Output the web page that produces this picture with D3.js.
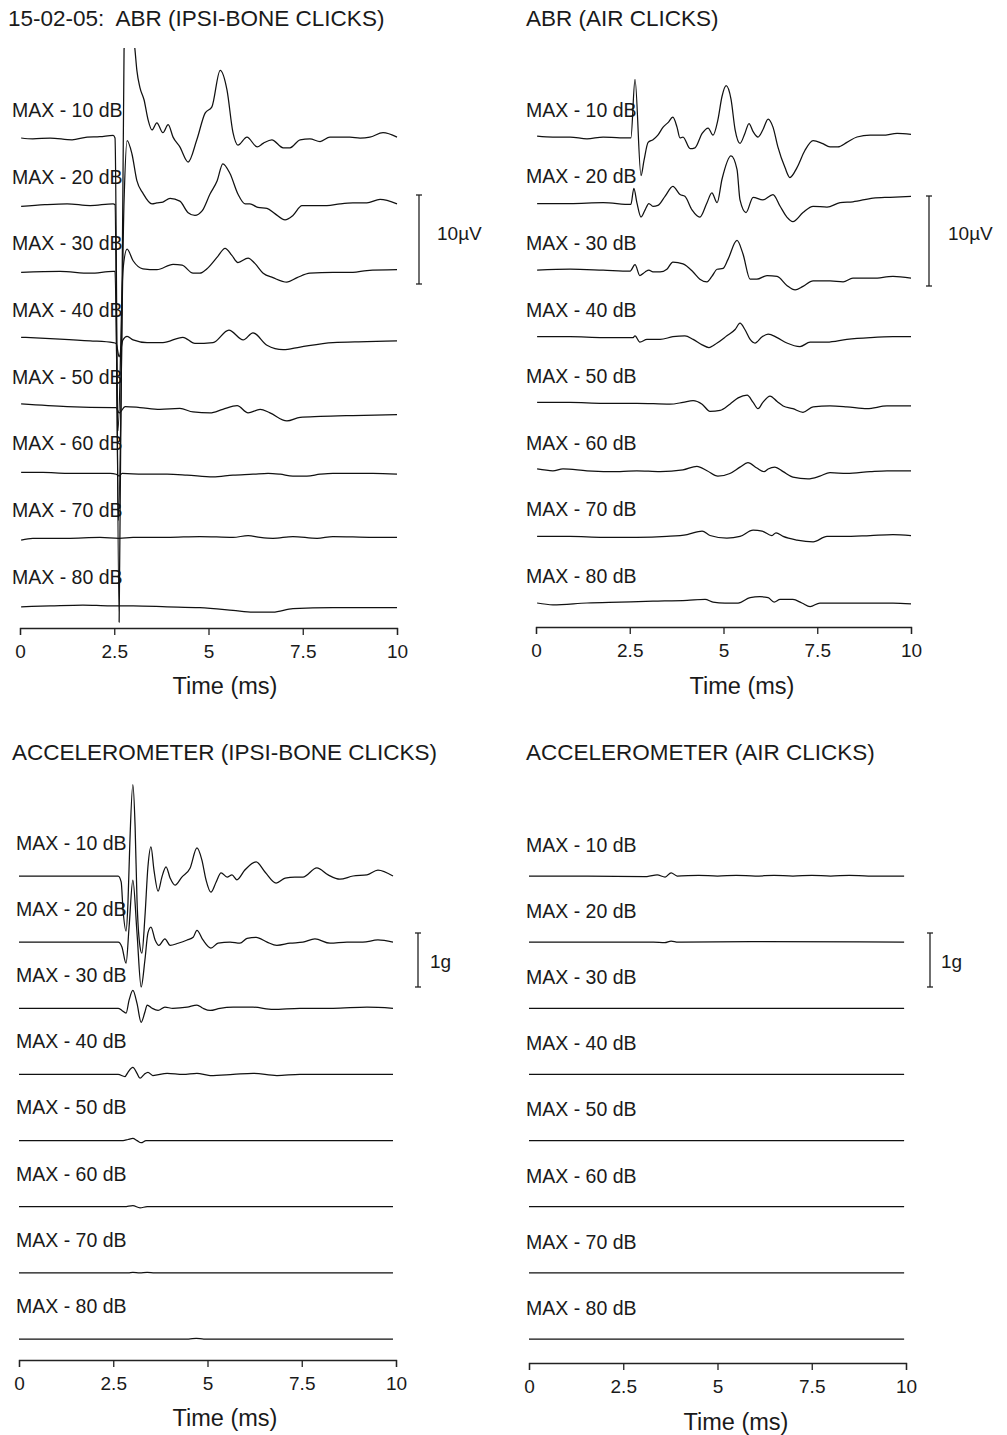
<!DOCTYPE html>
<html><head><meta charset="utf-8">
<script src="https://cdn.jsdelivr.net/npm/d3@7"></script>
<style>
body{margin:0;background:#fff;}
svg text{font-family:"Liberation Sans",Arial,Helvetica,sans-serif;fill:#1a1a1a;}
</style></head><body>
<svg id="chart" width="1007" height="1435"></svg>
<script>
const levels = ["MAX - 10 dB","MAX - 20 dB","MAX - 30 dB","MAX - 40 dB","MAX - 50 dB","MAX - 60 dB","MAX - 70 dB","MAX - 80 dB"];
const timeTicks = [0, 2.5, 5, 7.5, 10];
const titles = ["15-02-05:  ABR (IPSI-BONE CLICKS)","ABR (AIR CLICKS)","ACCELEROMETER (IPSI-BONE CLICKS)","ACCELEROMETER (AIR CLICKS)"];
const xLabel = "Time (ms)";
const scaleBars = [{value:10,label:"10\u00b5V"},{value:1,label:"1g"}];

// ABR, ipsilateral bone clicks: [time ms, amplitude µV]
const abrBone10 = [[0.03,0],[0.34,-0.1],[0.8,0],[1.38,-0.2],[1.78,0.1],[2.12,0.15],[2.47,0.3],[2.52,0],[2.63,-54.4],[2.76,9.9],[2.9,15.5],[3.05,9.9],[3.1,7.6],[3.18,5.7],[3.29,4.3],[3.4,2.0],[3.5,0.9],[3.63,1.7],[3.79,0.6],[3.93,1.5],[4.06,0.1],[4.24,-1.0],[4.46,-2.7],[4.69,-0.2],[4.91,2.8],[5.09,3.5],[5.31,7.6],[5.49,5.4],[5.65,0.6],[5.78,-0.8],[6.02,0.1],[6.29,-1.0],[6.45,-0.6],[6.68,-0.2],[6.98,-1.1],[7.16,-1.1],[7.43,-0.2],[7.69,-0.1],[7.96,-0.4],[8.22,0.1],[8.49,0.1],[8.75,0.1],[9.02,0],[9.28,0.1],[9.63,0.6],[10,0.1]];
const abrBone20 = [[0.03,-0.2],[0.66,0],[1.25,0.1],[1.86,-0.1],[2.47,0.1],[2.52,0],[2.61,-35.5],[2.76,0.4],[2.84,7.2],[2.97,5.7],[3.1,2.7],[3.26,1.3],[3.5,0.1],[3.63,0.2],[3.79,0.3],[3.98,0.7],[4.24,0.4],[4.46,-0.9],[4.64,-1.2],[4.83,-0.7],[5.04,1.2],[5.23,2.7],[5.38,4.6],[5.57,3.5],[5.78,1.2],[5.97,0.1],[6.1,0.1],[6.31,-0.3],[6.55,-0.4],[6.76,-1.0],[7.03,-1.7],[7.24,-1.2],[7.48,-0.1],[7.77,-0.1],[8.14,-0.1],[8.49,0.1],[8.83,0.2],[9.2,0.2],[9.55,0.6],[10,0.1]];
const abrBone30 = [[0.03,-0.1],[1.06,0],[1.86,-0.2],[2.47,0],[2.52,0],[2.6,-17.9],[2.73,0.1],[2.84,2.5],[3.0,1.2],[3.26,0.3],[3.63,0.2],[4.06,0.8],[4.3,0.7],[4.59,-0.2],[4.77,-0.2],[4.96,0.3],[5.23,1.6],[5.44,2.6],[5.62,1.8],[5.78,1.0],[6.05,1.5],[6.23,0.9],[6.45,-0.2],[6.71,-0.7],[7.08,-1.2],[7.35,-0.7],[7.69,-0.2],[8.3,-0.1],[8.83,-0.1],[9.2,0.1],[10,0.2]];
const abrBone40 = [[0.03,0.1],[1.06,-0.1],[1.86,-0.3],[2.47,-0.5],[2.55,-0.6],[2.63,-2.1],[2.73,-0.2],[2.84,0.2],[3.0,-0.2],[3.37,-0.5],[3.79,-0.5],[4.32,0.1],[4.64,-0.6],[5.12,-0.5],[5.54,0.9],[5.92,-0.2],[6.18,0.6],[6.55,-0.8],[6.98,-1.3],[7.43,-1.0],[8.3,-0.5],[9.2,-0.4],[10,-0.3]];
const abrBone50 = [[0.03,0.1],[1.25,-0.2],[2.47,-0.3],[2.55,-0.3],[2.63,-0.9],[2.79,-0.2],[3.18,-0.3],[3.71,-0.5],[4.24,-0.4],[4.59,-0.8],[5.04,-0.9],[5.38,-0.5],[5.76,-0.1],[6.05,-0.9],[6.37,-0.5],[6.63,-0.9],[7.08,-1.8],[7.43,-1.4],[7.96,-1.3],[8.83,-1.2],[10,-1.1]];
const abrBone60 = [[0.03,-0.1],[0.61,-0.1],[1.25,-0.2],[1.94,-0.2],[2.39,-0.2],[2.55,-0.3],[2.63,-0.5],[2.71,-0.2],[3.26,-0.3],[3.9,-0.3],[4.43,-0.4],[5.12,-0.6],[5.65,-0.4],[6.18,-0.3],[6.58,-0.2],[6.9,-0.3],[7.24,-0.5],[7.61,-0.5],[7.96,-0.3],[8.3,-0.2],[9.36,-0.2],[10,-0.3]];
const abrBone70 = [[0.03,-0.2],[0.34,0],[1.25,0],[2.12,0.1],[2.63,0],[3.0,0.1],[3.9,0.1],[4.77,0.2],[5.65,0.1],[6.05,0.3],[6.37,0.1],[6.71,0],[7.24,0.2],[7.88,0],[8.3,0.2],[9.36,0.1],[10,0.1]];
const abrBone80 = [[0.03,-0.2],[0.8,-0.1],[1.67,0],[2.39,-0.1],[3.0,-0.1],[3.9,-0.2],[4.77,-0.3],[5.65,-0.6],[6.18,-0.8],[6.71,-0.8],[7.24,-0.4],[8.3,-0.3],[10,-0.3]];

// ABR, air clicks: [time ms, amplitude µV]
const abrAir10 = [[0.03,0.1],[0.45,0],[0.91,0],[1.36,-0.2],[1.79,0],[2.24,-0.1],[2.53,-0.1],[2.64,6.4],[2.8,-4.3],[2.88,-2.6],[2.99,-0.6],[3.12,-0.3],[3.25,0.2],[3.39,1.1],[3.52,1.6],[3.65,2.2],[3.76,1.1],[3.84,-0.1],[3.92,0],[4.11,-1.3],[4.24,-1.2],[4.43,0.4],[4.59,1.0],[4.72,0.2],[4.85,1.9],[4.96,4.5],[5.07,5.7],[5.2,4.2],[5.31,0.8],[5.44,-0.7],[5.57,0.4],[5.68,1.5],[5.79,0.6],[5.92,0],[6.05,0.8],[6.19,2.0],[6.32,1.1],[6.45,-1.1],[6.64,-3.4],[6.77,-4.5],[6.96,-3.4],[7.17,-1.5],[7.39,-0.4],[7.63,-0.7],[7.84,-1.1],[8.05,-1.1],[8.29,-0.6],[8.56,0],[8.91,0.2],[9.25,0.2],[9.63,0.4],[10,0.3]];
const abrAir20 = [[0.03,0],[0.91,0],[1.79,0.1],[2.53,-0.1],[2.61,1.7],[2.69,0.1],[2.8,-1.5],[2.91,-0.7],[3.01,0],[3.12,-0.3],[3.25,-0.2],[3.44,0.8],[3.65,1.9],[3.84,1.0],[3.97,0.8],[4.16,-0.7],[4.37,-1.5],[4.56,0.1],[4.69,1.2],[4.83,0.1],[4.96,2.7],[5.2,5.3],[5.36,3.8],[5.44,0.4],[5.6,-1.0],[5.79,0.7],[6.05,0.4],[6.32,1.0],[6.51,-0.3],[6.69,-1.5],[6.85,-2.0],[7.12,-1.0],[7.39,-0.3],[7.76,-0.4],[8.11,0.1],[8.45,0.2],[8.99,0.6],[9.44,0.7],[10,0.8]];
const abrAir30 = [[0.03,0],[0.91,0.1],[1.79,0],[2.51,-0.1],[2.64,0.6],[2.77,-0.6],[2.91,-0.2],[3.01,0],[3.12,-0.2],[3.31,-0.2],[3.49,0.1],[3.65,0.9],[3.92,0.7],[4.19,-0.2],[4.37,-1.0],[4.56,-1.3],[4.69,-0.7],[4.83,0.1],[4.99,0.2],[5.12,1.2],[5.36,3.3],[5.52,1.8],[5.71,-1.0],[5.89,-1.0],[6.16,-0.6],[6.43,-0.7],[6.69,-1.7],[6.91,-2.2],[7.12,-1.8],[7.39,-1.2],[7.84,-1.2],[8.19,-1.3],[8.45,-0.9],[8.99,-0.9],[9.52,-0.7],[10,-0.9]];
const abrAir40 = [[0.03,0],[0.91,0],[1.79,-0.1],[2.59,-0.1],[2.64,0.1],[2.77,-0.6],[2.96,-0.3],[3.31,-0.3],[3.65,0],[3.97,0.1],[4.19,-0.3],[4.43,-0.9],[4.61,-1.2],[4.83,-0.7],[5.09,0.1],[5.31,0.8],[5.44,1.5],[5.57,0.8],[5.71,-0.3],[5.84,-0.7],[6.03,0],[6.19,0.3],[6.43,-0.1],[6.69,-0.7],[7.04,-1.1],[7.31,-0.6],[7.76,-0.6],[8.29,-0.3],[8.91,-0.1],[9.52,0],[10,0]];
const abrAir50 = [[0.03,0.1],[0.91,0.1],[1.79,0],[2.69,0],[3.57,-0.1],[3.92,0.1],[4.19,0.3],[4.43,-0.1],[4.64,-0.9],[4.91,-0.8],[5.17,-0.1],[5.39,0.6],[5.63,0.9],[5.79,0.1],[5.92,-0.6],[6.05,0.1],[6.24,0.8],[6.43,0.2],[6.59,-0.3],[6.85,-0.6],[7.12,-1.0],[7.39,-0.4],[7.84,-0.3],[8.29,-0.4],[8.83,-0.6],[9.36,-0.3],[10,-0.3]];
const abrAir60 = [[0.03,0.1],[0.45,-0.1],[0.72,0.1],[1.36,-0.1],[2.24,-0.2],[2.69,-0.1],[3.31,-0.2],[3.92,0],[4.29,0.4],[4.56,-0.1],[4.85,-0.7],[5.17,-0.4],[5.44,0.3],[5.65,0.8],[5.89,0.2],[6.08,-0.2],[6.19,0.1],[6.37,0.3],[6.59,-0.2],[6.85,-0.8],[7.25,-1.0],[7.57,-0.7],[7.84,-0.3],[8.29,-0.4],[8.91,-0.2],[9.36,-0.1],[10,-0.1]];
const abrAir70 = [[0.03,0],[0.91,0],[1.79,-0.1],[2.69,-0.1],[3.49,0],[4.03,0.2],[4.43,0.6],[4.64,0.1],[5.09,-0.2],[5.44,0],[5.79,0.7],[6.03,0.6],[6.29,0.1],[6.4,0.4],[6.59,0],[6.96,-0.4],[7.39,-0.6],[7.76,0],[8.19,0],[8.91,0.1],[9.52,0.2],[10,0.1]];
const abrAir80 = [[0.03,0],[0.45,-0.2],[1.36,0],[2.24,0.1],[3.12,0.2],[4.03,0.3],[4.51,0.4],[4.72,0.1],[5.04,0],[5.39,0],[5.71,0.6],[5.97,0.7],[6.19,0.6],[6.35,0.1],[6.51,0.4],[6.85,0.4],[7.09,0],[7.31,-0.4],[7.57,0],[8.03,0],[8.91,0],[9.52,0],[10,-0.1]];

// Accelerometer, ipsilateral bone clicks: [time ms, acceleration g]
const accBone10 = [[0,0],[1.3,0],[2.63,0],[2.71,-0.11],[2.76,-0.63],[2.84,-1.02],[2.89,-0.5],[2.94,0.61],[3.02,1.69],[3.08,0.91],[3.13,-0.44],[3.21,-1.31],[3.26,-1.43],[3.34,-0.76],[3.42,0.17],[3.5,0.54],[3.58,0.11],[3.69,-0.28],[3.79,-0.02],[3.9,0.17],[4.01,-0.04],[4.14,-0.17],[4.32,-0.02],[4.54,0.15],[4.72,0.52],[4.85,0.3],[4.96,-0.07],[5.09,-0.3],[5.23,-0.11],[5.36,0.06],[5.52,-0.02],[5.65,0.02],[5.78,-0.07],[5.99,0.11],[6.29,0.26],[6.53,0.07],[6.82,-0.13],[7.06,-0.04],[7.32,-0.02],[7.53,-0.02],[7.9,0.15],[8.2,0.02],[8.51,-0.06],[8.86,0],[9.23,0.02],[9.52,0.11],[9.92,0]];
const accBone20 = [[0,0],[1.3,0],[2.63,0],[2.73,-0.09],[2.84,-0.39],[2.92,0.28],[3.02,1.15],[3.13,0.17],[3.24,-0.83],[3.34,-0.33],[3.42,0.17],[3.5,0.28],[3.61,0.04],[3.71,-0.06],[3.87,0.06],[4.01,-0.06],[4.22,-0.02],[4.46,0.04],[4.62,0.09],[4.72,0.22],[4.88,0.04],[5.09,-0.11],[5.28,-0.02],[5.6,0],[5.86,-0.02],[6.05,0.07],[6.29,0.09],[6.58,0],[6.84,-0.06],[7.19,-0.02],[7.53,0],[7.85,0.06],[8.25,-0.02],[8.7,0],[9.12,0],[9.52,0.04],[9.92,0]];
const accBone30 = [[0,0],[1.3,0],[2.63,0],[2.73,-0.04],[2.84,-0.09],[2.92,0.15],[3.02,0.33],[3.13,0.09],[3.24,-0.26],[3.34,-0.07],[3.4,0.06],[3.53,0],[3.69,-0.04],[3.87,0.02],[4.08,0],[4.46,0.02],[4.72,0.06],[4.88,0],[5.07,-0.04],[5.33,0],[5.68,0.02],[6.21,0.02],[6.74,-0.02],[7.45,0],[8.33,0],[9.23,0.02],[9.92,0]];
const accBone40 = [[0,0],[1.3,0],[2.63,0],[2.81,-0.04],[2.89,0.04],[3.02,0.13],[3.13,0.02],[3.21,-0.07],[3.32,0],[3.42,0.04],[3.55,-0.02],[3.93,0.02],[4.35,0],[4.72,0.02],[5.07,-0.02],[5.68,0],[6.21,0.02],[6.84,-0.02],[7.45,0],[9.92,0]];
const accBone50 = [[0,0],[1.3,0],[2.76,0],[2.89,0.02],[3.02,0.04],[3.13,0],[3.24,-0.04],[3.37,0],[4.8,0],[9.92,0]];
const accBone60 = [[0,0],[2.8,0],[3.02,0.02],[3.21,-0.02],[3.4,0],[9.92,0]];
const accBone70 = [[0,0],[2.9,0],[3.02,0.01],[3.2,0],[3.4,0.01],[3.6,0],[9.92,0]];
const accBone80 = [[0,0],[4.5,0],[4.7,0.01],[4.9,0],[9.92,0]];

// Accelerometer, air clicks: [time ms, acceleration g]
const accAir10 = [[0,0],[1.5,0],[3.13,-0.01],[3.4,0.02],[3.61,-0.02],[3.77,0.06],[3.93,0],[4.5,0.01],[5.0,0],[5.5,0.01],[6.0,0],[6.5,0.01],[7.0,0],[7.5,0.01],[8.0,0],[8.5,0.01],[9.0,0],[9.95,0]];
const accAir20 = [[0,0],[3.3,0],[3.6,-0.01],[3.77,0.02],[3.95,0],[6.0,0.01],[9.95,0]];
const accAir30 = [[0,0],[5,0],[9.95,0]];
const accAir40 = [[0,0],[5,0],[9.95,0]];
const accAir50 = [[0,0],[5,0],[9.95,0]];
const accAir60 = [[0,0],[5,0],[9.95,0]];
const accAir70 = [[0,0],[5,0],[9.95,0]];
const accAir80 = [[0,0],[5,0],[9.95,0]];

const abrBoneTraces = [abrBone10,abrBone20,abrBone30,abrBone40,abrBone50,abrBone60,abrBone70,abrBone80];
const abrAirTraces = [abrAir10,abrAir20,abrAir30,abrAir40,abrAir50,abrAir60,abrAir70,abrAir80];
const accBoneTraces = [accBone10,accBone20,accBone30,accBone40,accBone50,accBone60,accBone70,accBone80];
const accAirTraces = [accAir10,accAir20,accAir30,accAir40,accAir50,accAir60,accAir70,accAir80];

// layout
const panels = [
  {title:titles[0], titleX:8, titleY:18, xr:[20,397], rows:[138,605], labelX:12, labelDy:-28, axisY:628, xLab:[225,686], traces:abrBoneTraces, bar:scaleBars[0], barPx:89, barX:419, barTop:195, barLab:[437,233], clipTop:48},
  {title:titles[1], titleX:526, titleY:18, xr:[536,911], rows:[137,603], labelX:526, labelDy:-27, axisY:627, xLab:[742,686], traces:abrAirTraces, bar:scaleBars[0], barPx:90, barX:929, barTop:196, barLab:[948,233], clipTop:0},
  {title:titles[2], titleX:12, titleY:752, xr:[19,396], rows:[876,1339], labelX:16, labelDy:-33, axisY:1360, xLab:[225,1418], traces:accBoneTraces, bar:scaleBars[1], barPx:54, barX:418, barTop:933, barLab:[430,961], clipTop:0},
  {title:titles[3], titleX:526, titleY:752, xr:[529,906], rows:[876,1339], labelX:526, labelDy:-31, axisY:1363, xLab:[736,1422], traces:accAirTraces, bar:scaleBars[1], barPx:54, barX:930, barTop:933, barLab:[941,961], clipTop:0}
];

const svg = d3.select("#chart");
const defs = svg.append("defs");

panels.forEach((p, pi) => {
  const g = svg.append("g");
  const x = d3.scaleLinear().domain([0,10]).range(p.xr);
  const row = d3.scaleLinear().domain([0, levels.length-1]).range(p.rows);
  const amp = d3.scaleLinear().domain([0, p.bar.value]).range([0, p.barPx]);

  g.append("text").attr("x", p.titleX).attr("y", p.titleY).attr("dy","0.35em")
    .style("white-space","pre").attr("font-size","22.5px").text(p.title);

  g.selectAll("text.lvl").data(levels).join("text").attr("class","lvl")
    .attr("x", p.labelX).attr("y", (d,i) => row(i) + p.labelDy).attr("dy","0.35em")
    .attr("font-size","19.5px").text(d => d);

  const clipId = "clip" + pi;
  defs.append("clipPath").attr("id", clipId).append("rect")
    .attr("x", 0).attr("y", p.clipTop).attr("width", 1007).attr("height", 1435);

  const tg = g.append("g").attr("clip-path", `url(#${clipId})`);
  p.traces.forEach((tr, i) => {
    const y = v => row(i) - amp(v);
    const line = d3.line().x(d => x(d[0])).y(d => y(d[1])).curve(d3.curveMonotoneX);
    tg.append("path").attr("d", line(tr)).attr("fill","none")
      .attr("stroke","#111").attr("stroke-width",1.25).attr("stroke-linejoin","round");
  });

  const axis = d3.axisBottom(x).tickValues(timeTicks).tickSize(7).tickPadding(10).tickFormat(d3.format(""));
  const ag = g.append("g").attr("transform", `translate(0,${p.axisY})`).call(axis);
  ag.select(".domain").attr("stroke","#222").attr("stroke-width",1.3);
  ag.selectAll(".tick line").attr("stroke","#222").attr("stroke-width",1.3);
  ag.selectAll(".tick text").attr("font-size","19px").attr("fill","#1a1a1a")
    .attr("font-family",'"Liberation Sans",Arial,Helvetica,sans-serif');

  g.append("text").attr("x", p.xLab[0]).attr("y", p.xLab[1]).attr("dy","0.35em")
    .attr("text-anchor","middle").attr("font-size","23.5px").text(xLabel);

  const y0 = p.barTop, y1 = p.barTop + amp(p.bar.value);
  const bg = g.append("g").attr("stroke","#222").attr("stroke-width",1.3);
  bg.append("line").attr("x1",p.barX).attr("x2",p.barX).attr("y1",y0).attr("y2",y1);
  bg.append("line").attr("x1",p.barX-3).attr("x2",p.barX+3).attr("y1",y0).attr("y2",y0);
  bg.append("line").attr("x1",p.barX-3).attr("x2",p.barX+3).attr("y1",y1).attr("y2",y1);
  g.append("text").attr("x", p.barLab[0]).attr("y", p.barLab[1]).attr("dy","0.35em")
    .attr("font-size","19px").text(p.bar.label);
});
</script>
</body></html>
